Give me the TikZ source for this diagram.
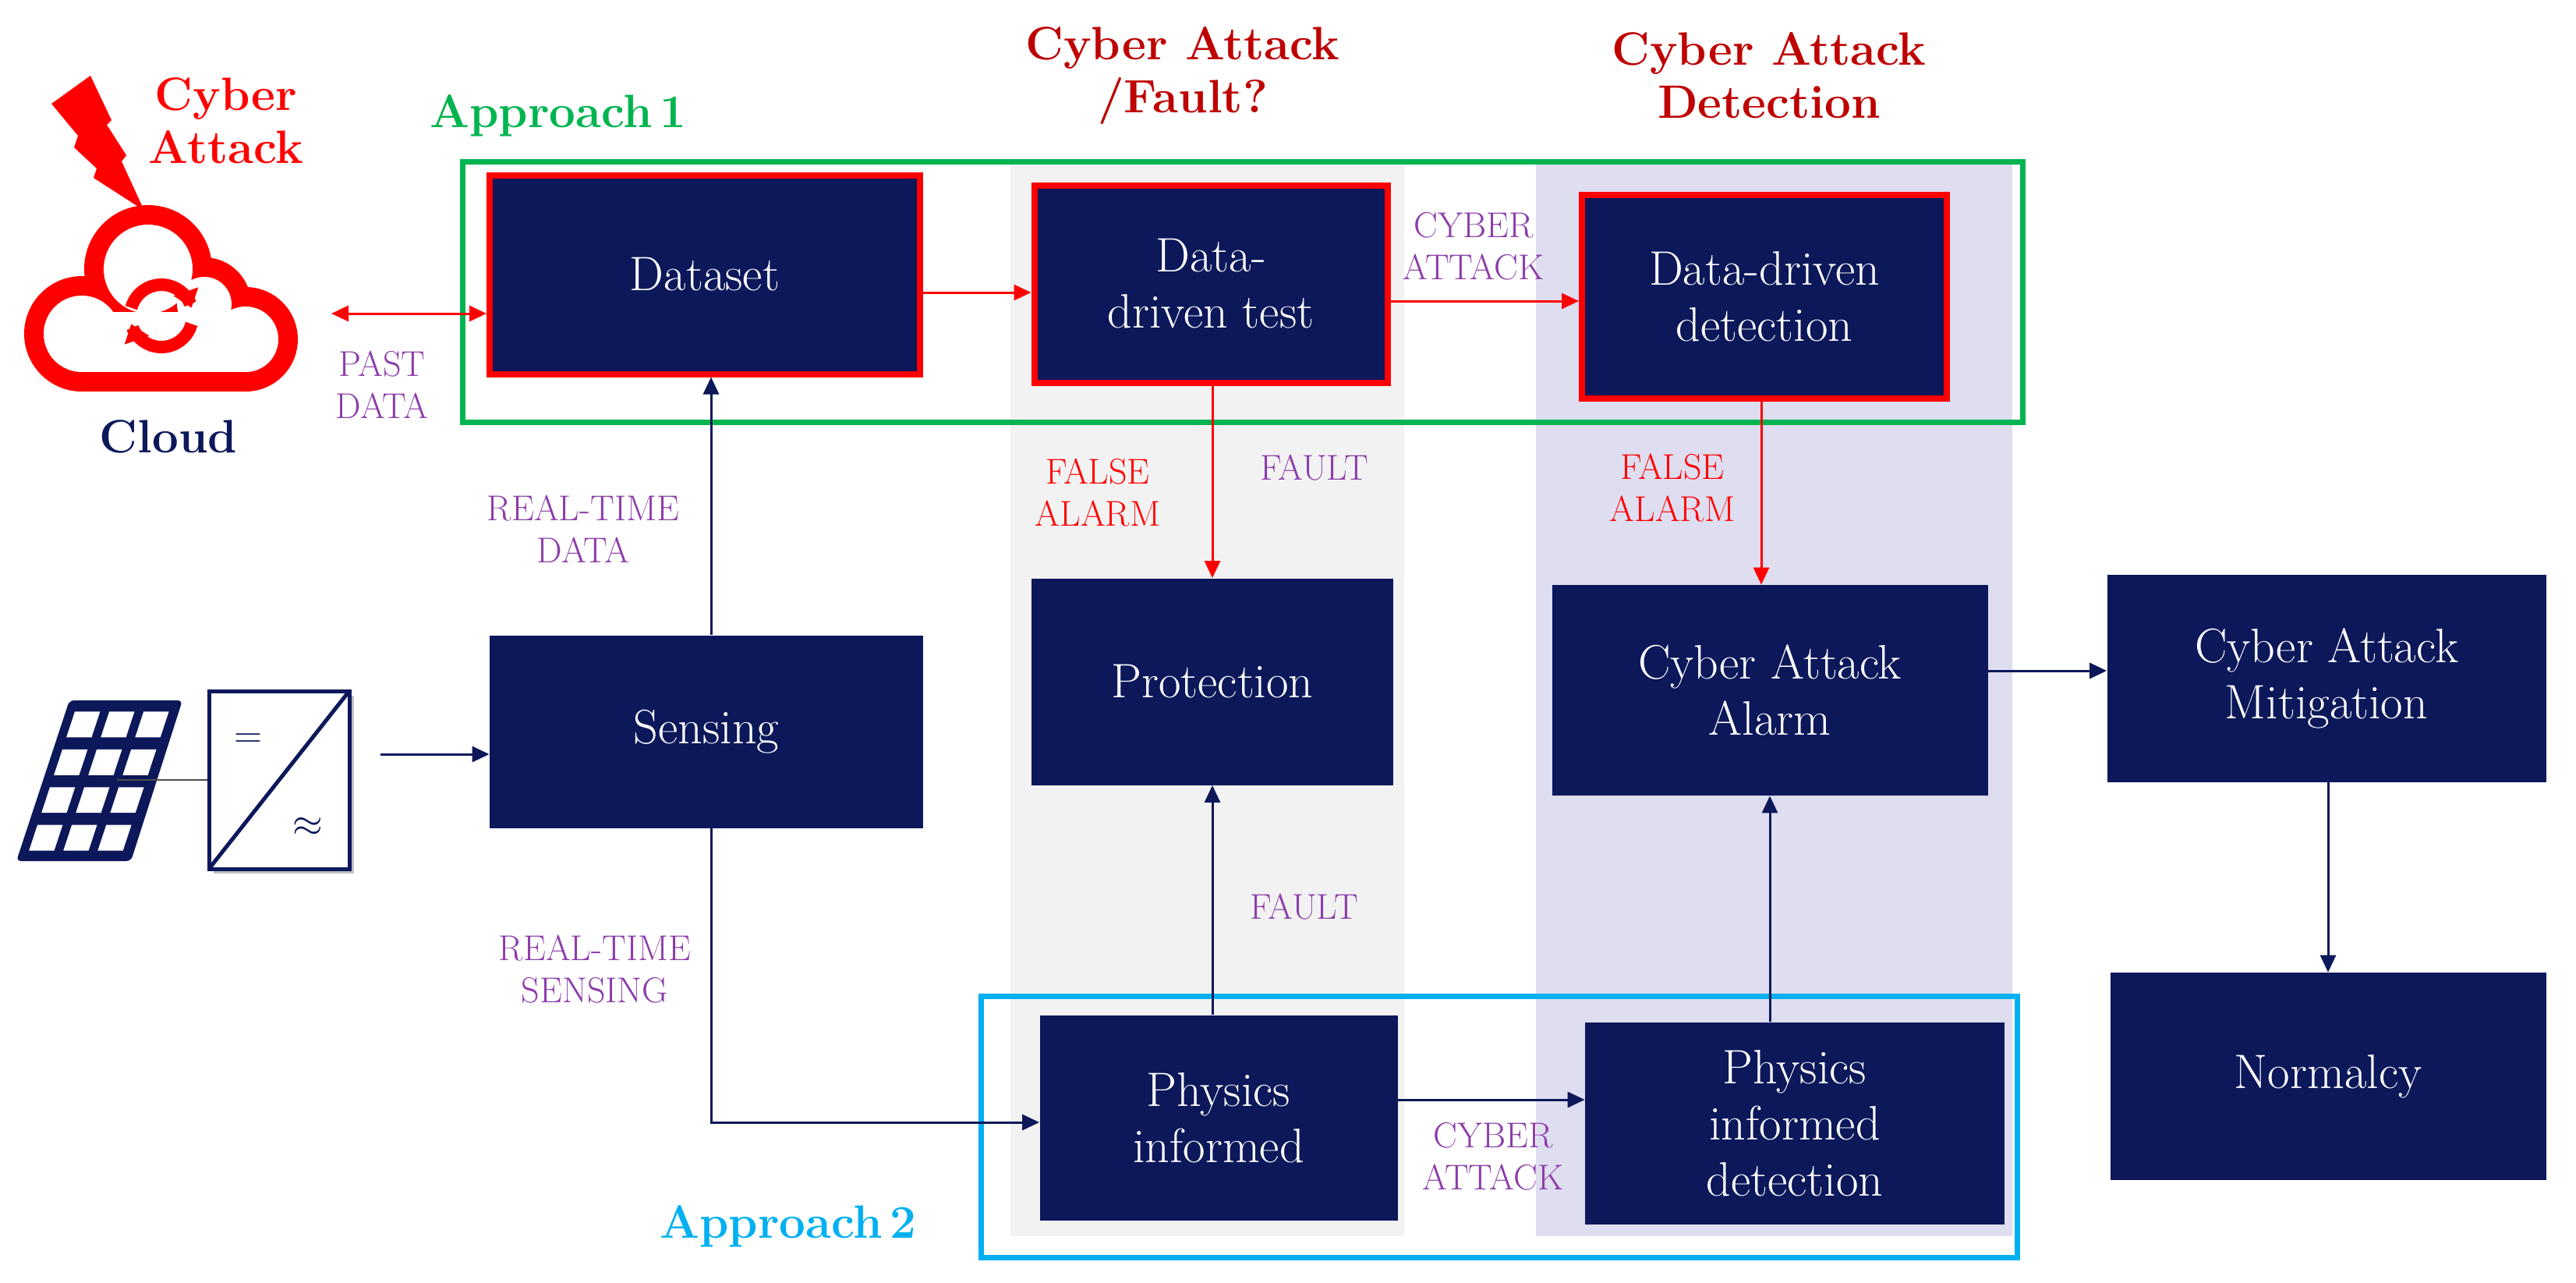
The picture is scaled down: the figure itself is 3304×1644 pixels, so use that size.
\documentclass[tikz,border=0pt]{standalone}
\usetikzlibrary{arrows.meta}
\definecolor{navy}{RGB}{12,24,90}
\definecolor{lab}{RGB}{140,60,170}
\definecolor{dred}{RGB}{190,0,0}
\definecolor{grn}{RGB}{0,180,80}
\definecolor{blu}{RGB}{0,176,240}
\definecolor{band1}{RGB}{242,242,242}
\definecolor{band2}{RGB}{223,221,240}
\begin{document}
\begin{tikzpicture}[x=0.5pt,y=-0.5pt,
 box/.style={fill=navy,text=white,font=\fontsize{31}{36}\selectfont,align=center,inner sep=0pt},
 rbox/.style={box,draw=red,line width=4pt},
 lbl/.style={text=lab,font=\fontsize{23}{27}\selectfont,align=center},
 rlbl/.style={text=red,font=\fontsize{23}{27}\selectfont,align=center},
 ttl/.style={text=dred,font=\bfseries\fontsize{30}{34}\selectfont,align=center},
 arr/.style={line width=1.5pt,-{Triangle[length=11pt,width=10pt]}},
 na/.style={arr,draw=navy},
 ra/.style={arr,draw=red}]
\useasboundingbox (0,0) rectangle (3304,1644);
% bands
\fill[band1] (1296,204) rectangle (1801,1585);
\fill[band2] (1970,204) rectangle (2581,1585);
\draw[grn,line width=3.5pt] (593,207) rectangle (2594,541);
\draw[blu,line width=3.5pt] (1258,1277) rectangle (2587,1612);
% titles
\node[ttl,text=red] at (290,155) {Cyber\\Attack};
\node[ttl] at (1517,97) {Cyber Attack\\/Fault?};
\node[ttl] at (2269,97) {Cyber Attack\\Detection};
\node[font=\bfseries\fontsize{30}{34}\selectfont,text=grn] at (716,148) {Approach\,1};
\node[font=\bfseries\fontsize{30}{34}\selectfont,text=blu] at (1011,1572) {Approach\,2};
\node[font=\bfseries\fontsize{30}{34}\selectfont,text=navy] (cloudt) at (216,560) {Cloud};
% cloud
\fill[red] (105,428) circle (74) (190,345) circle (82) (315,435) circle (67) (262,390) circle (60);
\fill[red] (105,400) rectangle (315,502);
\fill[white] (105,428) circle (49) (190,345) circle (57) (315,435) circle (42) (262,390) circle (35);
\fill[white] (105,400) rectangle (315,477);
\draw[red,line width=8pt,-{Triangle[length=11pt,width=16pt]}] plot[domain=165:15,samples=20] ({207+40*cos(\x)},{405-40*sin(\x)});
\draw[red,line width=8pt,-{Triangle[length=11pt,width=16pt]}] plot[domain=345:195,samples=20] ({207+40*cos(\x)},{405-40*sin(\x)});
\fill[red] (66,133) -- (116,97) -- (143,154) -- (137,160) -- (162,199) -- (156,207) -- (185,270) -- (120,228) -- (124,216) -- (95,189) -- (100,174) -- cycle;
\coordinate (cl) at (425,402);
% solar panel
\fill[navy,rounded corners=3pt] (21,1104) -- (168,1104) -- (234,898) -- (89,898) -- cycle;
\foreach \i in {0,1,2} \foreach \j in {0,1,2,3} {
  \pgfmathsetmacro{\ua}{0.08+\i*0.3}\pgfmathsetmacro{\ub}{\ua+0.22}
  \pgfmathsetmacro{\va}{0.07+\j*0.235}\pgfmathsetmacro{\vb}{\va+0.16}
  \fill[white] ({21+\ua*147+(1-\va)*68},{1104-(1-\va)*206}) -- ({21+\ub*147+(1-\va)*68},{1104-(1-\va)*206}) -- ({21+\ub*147+(1-\vb)*68},{1104-(1-\vb)*206}) -- ({21+\ua*147+(1-\vb)*68},{1104-(1-\vb)*206}) -- cycle;}
\draw[black!70,line width=1pt] (150,1000) -- (268,1000);
\fill[black!25] (274,892) rectangle (454,1120);
\draw[navy,line width=2.5pt,fill=white] (268,886) rectangle (448,1114);
\draw[navy,line width=2.5pt] (268,1114) -- (448,886);
\node[text=navy,font=\fontsize{30}{30}\selectfont] at (318,950) {$=$};
\node[text=navy,font=\fontsize{30}{30}\selectfont] (inv) at (395,1060) {$\approx$};
\coordinate (invr) at (488,967);
% boxes
\node[rbox,minimum width=276pt,minimum height=127.5pt] (ds) at (904,352) {Dataset};
\node[rbox,minimum width=226.5pt,minimum height=126.5pt] (ddt) at (1553,364) {Data-\\driven test};
\node[rbox,minimum width=234pt,minimum height=130.5pt] (ddd) at (2263,380) {Data-driven\\detection};
\node[box,minimum width=232pt,minimum height=132.5pt] (prot) at (1555,874) {Protection};
\node[box,minimum width=279.5pt,minimum height=135pt] (alarm) at (2270,885) {Cyber Attack\\Alarm};
\node[box,minimum width=281.5pt,minimum height=133pt] (mit) at (2984,870) {Cyber Attack\\Mitigation};
\node[box,minimum width=279.5pt,minimum height=133pt] (norm) at (2986,1380) {Normalcy};
\node[box,minimum width=278pt,minimum height=123.5pt] (sens) at (906,938) {Sensing};
\node[box,minimum width=229.5pt,minimum height=131.5pt] (pi) at (1563,1433) {Physics\\informed};
\node[box,minimum width=269pt,minimum height=129.5pt] (pid) at (2302,1440) {Physics\\informed\\detection};
% connectors
\draw[arr,draw=red,{Triangle[length=11pt,width=10pt]}-{Triangle[length=11pt,width=10pt]}] (cl) -- (cl -| ds.west);
\node[lbl] at (490,493) {PAST\\DATA};
\draw[ra] (ds.east |- 0,375) -- (ddt.west |- 0,375);
\draw[ra] (ddt.east |- 0,386) -- (ddd.west |- 0,386);
\node[lbl] at (1890,316) {CYBER\\ATTACK};
\draw[ra] (ddt.south -| 1555,0) -- (prot.north -| 1555,0);
\node[rlbl] at (1408,632) {FALSE\\ALARM};
\node[lbl] at (1686,600) {FAULT};
\draw[ra] (ddd.south -| 2259,0) -- (alarm.north -| 2259,0);
\node[rlbl] at (2145,626) {FALSE\\ALARM};
\draw[na] (invr) -- (invr -| sens.west);
\draw[na] (sens.north -| 912,0) -- (ds.south -| 912,0);
\node[lbl] at (748,678) {REAL-TIME\\DATA};
\draw[na] (sens.south -| 912,0) |- (pi.west |- 0,1439);
\node[lbl] at (763,1243) {REAL-TIME\\SENSING};
\draw[na] (pi.north -| 1555,0) -- (prot.south -| 1555,0);
\node[lbl] at (1673,1163) {FAULT};
\draw[na] (pi.east |- 0,1410) -- (pid.west |- 0,1410);
\node[lbl] at (1915,1483) {CYBER\\ATTACK};
\draw[na] (pid.north -| 2270,0) -- (alarm.south -| 2270,0);
\draw[na] (alarm.east |- 0,860) -- (mit.west |- 0,860);
\draw[na] (mit.south -| 2986,0) -- (norm.north -| 2986,0);
\end{tikzpicture}
\end{document}
